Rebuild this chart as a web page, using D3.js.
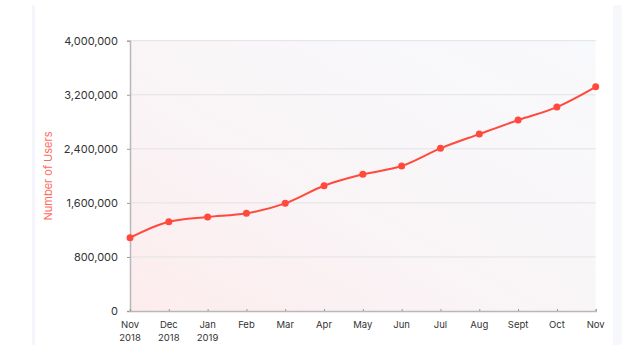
<!DOCTYPE html>
<html>
<head>
<meta charset="utf-8">
<script src="https://cdn.jsdelivr.net/npm/d3@7"></script>
<style>
  html, body { margin: 0; padding: 0; background: #fff; }
  svg text { font-family: "Inter", "Lato", sans-serif; }
</style>
</head>
<body>
<script>
// data
var months = ["Nov", "Dec", "Jan", "Feb", "Mar", "Apr", "May", "Jun", "Jul", "Aug", "Sept", "Oct", "Nov2"];
var month_labels = [["Nov", "2018"], ["Dec", "2018"], ["Jan", "2019"], ["Feb"], ["Mar"], ["Apr"], ["May"], ["Jun"], ["Jul"], ["Aug"], ["Sept"], ["Oct"], ["Nov"]];
var users = [1084000, 1321000, 1391000, 1445000, 1593000, 1854000, 2022000, 2145000, 2407000, 2618000, 2825000, 3018000, 3318000];
var y_ticks = [0, 800000, 1600000, 2400000, 3200000, 4000000];

var width = 640, height = 352;
var margin = { top: 40.7, right: 44.3, bottom: 41, left: 130 };
var plot_w = width - margin.left - margin.right;
var plot_h = height - margin.top - margin.bottom;

var svg = d3.select('body')
    .append('svg')
    .attr('width', width)
    .attr('height', height);

// faint side strips of the page
svg.append('rect').attr('x', 32).attr('y', 5).attr('width', 3).attr('height', 340).attr('fill', '#f5f6fb');
svg.append('rect').attr('x', 613).attr('y', 5).attr('width', 9).attr('height', 340).attr('fill', '#f7f8fc');

var defs = svg.append('defs');
var grad = defs.append('linearGradient')
    .attr('id', 'bg_grad')
    .attr('x1', '0%').attr('y1', '100%')
    .attr('x2', '100%').attr('y2', '0%');
grad.append('stop').attr('offset', '0%').attr('stop-color', '#fdeced');
grad.append('stop').attr('offset', '45%').attr('stop-color', '#f9f5f7');
grad.append('stop').attr('offset', '100%').attr('stop-color', '#f8f9fc');

var g = svg.append('g')
    .attr('transform', `translate(${margin.left}, ${margin.top})`);

var x = d3.scalePoint()
    .domain(months)
    .range([0, plot_w]);

var y = d3.scaleLinear()
    .domain([0, 4000000])
    .range([plot_h, 0]);

g.append('rect')
    .attr('width', plot_w)
    .attr('height', plot_h)
    .attr('fill', 'url(#bg_grad)');

// horizontal grid
g.append('g')
    .selectAll('line').data(y_ticks.slice(1)).enter()
    .append('line')
    .attr('x1', 0)
    .attr('x2', plot_w)
    .attr('y1', function(d) { return y(d); })
    .attr('y2', function(d) { return y(d); })
    .attr('stroke', '#e2e2e6')
    .attr('stroke-width', 1);

var yaxis = g.append('g')
    .call(d3.axisLeft(y).tickValues(y_ticks).tickSize(3).tickPadding(9).tickFormat(d3.format(',')));
yaxis.select('.domain').attr('stroke', '#b9b7b9').attr('stroke-width', 1.5);
yaxis.selectAll('.tick line').attr('stroke', '#9a9a9a');
yaxis.selectAll('text').attr('fill', '#333').style('font-size', '11px');

var xaxis = g.append('g')
    .attr('transform', `translate(0, ${plot_h})`)
    .call(d3.axisBottom(x).tickSize(-2).tickFormat(''));
xaxis.select('.domain').attr('stroke', '#b9b7b9').attr('stroke-width', 1.5);
xaxis.selectAll('.tick line').attr('stroke', '#9a9a9a');

var xlabels = g.append('g')
    .selectAll('text').data(months).enter()
    .append('text')
    .attr('x', function(d) { return x(d); })
    .attr('y', plot_h + 17)
    .attr('text-anchor', 'middle')
    .attr('fill', '#333')
    .style('font-size', '9.5px');
xlabels.each(function(d, i) {
    var t = d3.select(this);
    month_labels[i].forEach(function(s, j) {
        t.append('tspan')
            .attr('x', x(d))
            .attr('dy', j == 0 ? 0 : 13)
            .text(s);
    });
});

svg.append('text')
    .attr('transform', 'rotate(-90)')
    .attr('x', -176)
    .attr('y', 52)
    .attr('text-anchor', 'middle')
    .attr('fill', '#ff6a5c')
    .style('font-size', '11px')
    .text('Number of Users');

var line = d3.line()
    .x(function(d, i) { return x(months[i]); })
    .y(function(d) { return y(d); })
    .curve(d3.curveMonotoneX);

g.append('path')
    .datum(users)
    .attr('d', line)
    .attr('fill', 'none')
    .attr('stroke', '#ff4a3d')
    .attr('stroke-width', 2);

g.selectAll('circle').data(users).enter()
    .append('circle')
    .attr('cx', function(d, i) { return x(months[i]); })
    .attr('cy', function(d) { return y(d); })
    .attr('r', 3.5)
    .attr('fill', '#ff4a3d');
</script>
</body>
</html>
